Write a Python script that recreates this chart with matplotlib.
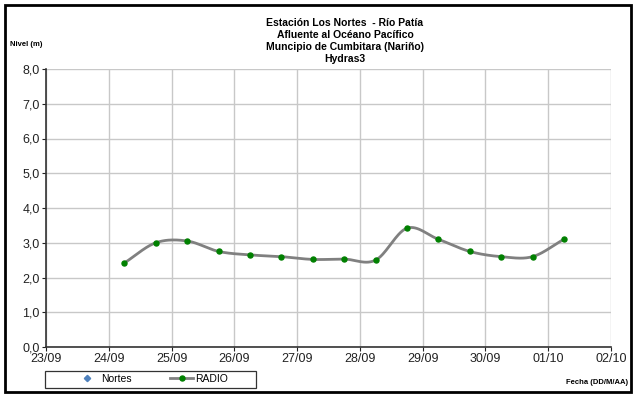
import numpy as np
import matplotlib
matplotlib.use("Agg")
import matplotlib.pyplot as plt
from matplotlib.lines import Line2D
from matplotlib.patches import Rectangle

plt.rcParams['font.family'] = ['Liberation Sans', 'DejaVu Sans']

# Data: days since 23/09 00:00
times = [1.25, 1.75, 2.25, 2.75, 3.25, 3.75, 4.25, 4.75, 5.25, 5.75, 6.25, 6.75, 7.25, 7.75, 8.25]
radio = [2.42, 3.0, 3.05, 2.75, 2.65, 2.6, 2.52, 2.53, 2.5, 3.42, 3.1, 2.75, 2.6, 2.6, 3.1]
tick_labels = ['23/09', '24/09', '25/09', '26/09', '27/09', '28/09', '29/09', '30/09', '01/10', '02/10']
title_lines = ['Estación Los Nortes  - Río Patía', 'Afluente al Océano Pacífico',
               'Muncipio de Cumbitara (Nariño)', 'Hydras3']


def smooth(x, y, n=30):
    x = np.asarray(x, float); y = np.asarray(y, float)
    px = np.concatenate([[2 * x[0] - x[1]], x, [2 * x[-1] - x[-2]]])
    py = np.concatenate([[2 * y[0] - y[1]], y, [2 * y[-1] - y[-2]]])
    xs, ys = [], []
    for i in range(1, len(px) - 2):
        t = np.linspace(0, 1, n, endpoint=False)
        for arr, out in ((px, xs), (py, ys)):
            p0, p1, p2, p3 = arr[i - 1], arr[i], arr[i + 1], arr[i + 2]
            out.extend(0.5 * ((2 * p1) + (-p0 + p2) * t + (2 * p0 - 5 * p1 + 4 * p2 - p3) * t ** 2
                              + (-p0 + 3 * p1 - 3 * p2 + p3) * t ** 3))
    xs.append(x[-1]); ys.append(y[-1])
    return np.array(xs), np.array(ys)


fig = plt.figure(figsize=(6.37, 3.94), dpi=100)
ax = fig.add_axes([46 / 637, 47 / 394, 565 / 637, 278 / 394])

sx, sy = smooth(times, radio)
ax.plot(sx, sy, color='#808080', lw=2.0, zorder=3)
ax.plot(times, radio, ls='none', marker='o', ms=3.6, color='#008000', zorder=4)

ax.set_xlim(0, 9)
ax.set_ylim(0, 8)
ax.set_xticks(range(10))
ax.set_xticklabels(tick_labels)
ax.set_yticks(range(9))
ax.set_yticklabels([f'{v:.1f}'.replace('.', ',') for v in range(9)])
ax.tick_params(labelsize=9, length=3, pad=1.5, colors='#222222')
ax.grid(True, color='#c8c8c8', lw=1)
ax.set_axisbelow(True)
for s in ['top', 'right']:
    ax.spines[s].set_visible(False)
for s in ['left', 'bottom']:
    ax.spines[s].set_color('#333333')
    ax.spines[s].set_linewidth(1.2)

# Title
y0 = 1 - 23 / 394
for i, line in enumerate(title_lines):
    fig.text(345 / 637, y0 - i * 12 / 394, line, ha='center', va='center',
             fontsize=7.5, fontweight='bold')

fig.text(10 / 637, 1 - 45 / 394, 'Nivel (m)', fontsize=5.5, fontweight='bold', va='center')
fig.text(628 / 637, 1 - 383 / 394, 'Fecha (DD/M/AA)', fontsize=5.5, fontweight='bold',
         ha='right', va='center')

handles = [Line2D([], [], ls='none', marker='D', ms=3.2, color='#4f81bd'),
           Line2D([], [], color='#808080', lw=2, marker='o', ms=3.6, mfc='#008000', mec='#008000')]
leg = fig.legend(handles, ['Nortes', 'RADIO'], ncol=2, loc='center',
                 bbox_to_anchor=(152 / 637, 1 - 379 / 394), fontsize=7.5,
                 frameon=False, borderpad=0.2,
                 handlelength=2.2, columnspacing=3.7, handletextpad=0.2, borderaxespad=0)
fig.add_artist(Rectangle((45 / 637, 6 / 394), 211 / 637, 17 / 394, transform=fig.transFigure,
                         fill=False, edgecolor='#333333', lw=0.9))

fig.add_artist(Rectangle((5 / 637, 2 / 394), 626 / 637, 387 / 394, transform=fig.transFigure,
                         fill=False, edgecolor='black', lw=2.0))

fig.savefig('out.png', dpi=100)
